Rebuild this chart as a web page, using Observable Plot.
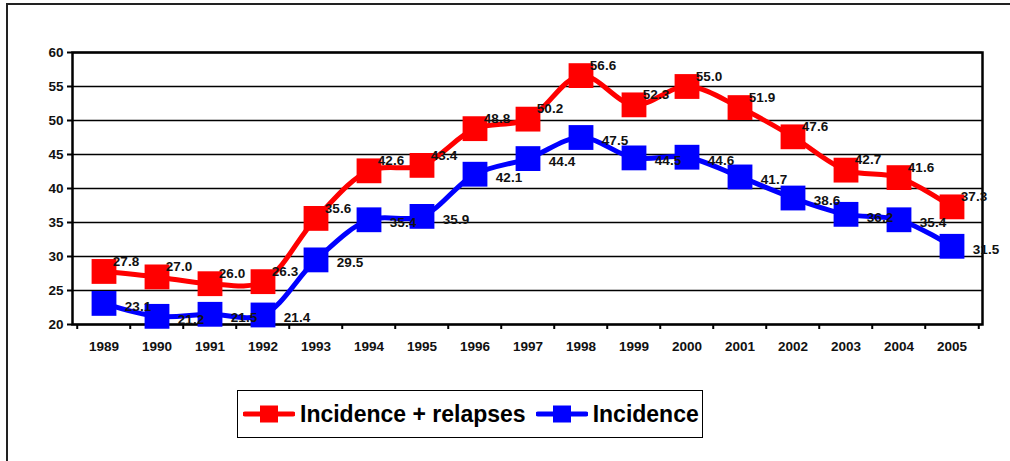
<!DOCTYPE html>
<html><head><meta charset="utf-8">
<script src="https://cdn.jsdelivr.net/npm/d3@7"></script>
<script src="https://cdn.jsdelivr.net/npm/@observablehq/plot@0.6"></script>
<style>
html,body{margin:0;padding:0;background:#fff;overflow:hidden;}
#wrap{position:relative;width:1010px;height:461px;overflow:hidden;font-family:"Liberation Sans",Arial,sans-serif;}
#chart{position:absolute;left:0;top:0;}
#frame{position:absolute;left:6px;top:3px;width:1030px;height:490px;border:2px solid #222;box-sizing:border-box;pointer-events:none;}
#legend{position:absolute;left:237px;top:390px;width:466px;height:48px;border:1.5px solid #000;box-sizing:border-box;display:flex;align-items:center;padding-left:5px;font-weight:bold;font-size:23px;color:#000;}
.item{display:flex;align-items:center;}
.item svg{margin-right:5px;}
</style>
</head><body>
<div id="wrap"><div id="chart"></div><div id="legend"></div><div id="frame"></div></div>
<script>
const years = ["1989","1990","1991","1992","1993","1994","1995","1996","1997","1998","1999","2000","2001","2002","2003","2004","2005"];
const seriesNames = ["Incidence + relapses", "Incidence"];
const seriesColors = ["#ff0000", "#0000ff"];
const incidenceRelapses = [27.8,27.0,26.0,26.3,35.6,42.6,43.4,48.8,50.2,56.6,52.3,55.0,51.9,47.6,42.7,41.6,37.3];
const incidence = [23.1,21.2,21.5,21.4,29.5,35.4,35.9,42.1,44.4,47.5,44.5,44.6,41.7,38.6,36.2,35.4,31.5];
const yTicks = [20,25,30,35,40,45,50,55,60];

const rowsRed = years.map((year, i) => ({year, series: seriesNames[0], value: incidenceRelapses[i]}));
const rowsBlue = years.map((year, i) => ({year, series: seriesNames[1], value: incidence[i]}));
const rows = rowsRed.concat(rowsBlue);

const W = 1010, H = 370, mL = 72, mR = 28, mT = 52, mB = 46;
const bw = (W - mL - mR) / years.length;
const font = {fontSize: 13.5, fontWeight: "bold", fill: "#111"};

const chart = Plot.plot({
  width: W, height: H,
  marginLeft: mL, marginRight: mR, marginTop: mT, marginBottom: mB,
  style: {background: "transparent", fontFamily: "'Liberation Sans', Arial, sans-serif"},
  x: {type: "band", domain: years, padding: 0},
  y: {domain: [20, 60]},
  color: {domain: seriesNames, range: seriesColors},
  marks: [
    Plot.gridY(yTicks, {stroke: "#000", strokeOpacity: 1, strokeWidth: 1.6}),
    Plot.frame({stroke: "#000", strokeWidth: 2.5}),
    Plot.axisY(yTicks, {tickSize: 5, tickPadding: 4, strokeWidth: 2, label: null, ...font}),
    Plot.axisX(years, {tickSize: 5, tickFormat: () => "", dx: -bw / 2, strokeWidth: 2, label: null}),
    Plot.axisX([years[years.length - 1]], {tickSize: 5, tickFormat: () => "", dx: bw / 2, strokeWidth: 2, label: null}),
    Plot.axisX(years, {tickSize: 0, tickPadding: 17, label: null, ...font}),
    Plot.line(rows, {x: "year", y: "value", stroke: "series", z: "series", strokeWidth: 5, curve: "catmull-rom"}),
    Plot.dot(rows, {x: "year", y: "value", fill: "series", symbol: "square", r: 14}),
    Plot.text(rowsRed, {x: "year", y: "value", text: d => d.value.toFixed(1), dx: 22, dy: -10, ...font}),
    Plot.text(rowsBlue, {x: "year", y: "value", text: d => d.value.toFixed(1), dx: 34, dy: 3, ...font})
  ]
});
document.getElementById("chart").appendChild(chart);

const legend = document.getElementById("legend");
seriesNames.forEach((name, i) => {
  const item = document.createElement("div");
  item.className = "item";
  item.style.marginRight = i === 0 ? "10px" : "0";
  const c = seriesColors[i];
  item.innerHTML = `<svg width="52" height="20"><line x1="2" y1="10" x2="50" y2="10" stroke="${c}" stroke-width="5" stroke-linecap="round"/><rect x="17" y="1.5" width="18" height="17" fill="${c}"/></svg><span>${name}</span>`;
  legend.appendChild(item);
});
</script>
</body></html>
